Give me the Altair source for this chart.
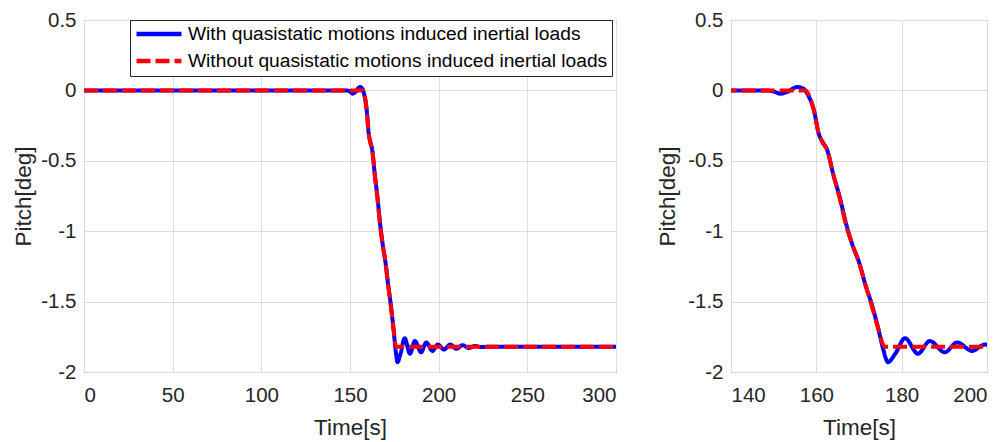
import altair as alt
import pandas as pd

S1 = "With quasistatic motions induced inertial loads"
S2 = "Without quasistatic motions induced inertial loads"

# Blue series: with quasistatic motions induced inertial loads
t_with = [0, 100, 148, 150, 151.6, 153.2, 155.5, 157, 158, 159.5, 160.5, 161.5, 162.5,
          164, 165.5, 167, 168.5, 170, 171.5, 173, 174.5, 175.6, 176.8, 178.5, 180.8,
          183.8, 186.6, 190.1, 193, 196.5, 199.5, 203, 206.5, 210, 213.5, 217, 220.5,
          224, 230, 300]
p_with = [0, 0, 0, -0.008, -0.023, -0.01, 0.024, 0.012, -0.03, -0.15, -0.3, -0.37, -0.42,
          -0.6, -0.76, -0.95, -1.1, -1.22, -1.38, -1.52, -1.69, -1.83, -1.93, -1.87, -1.76,
          -1.87, -1.78, -1.86, -1.79, -1.85, -1.805, -1.84, -1.805, -1.835, -1.81, -1.83,
          -1.815, -1.823, -1.82, -1.82]

# Red series: without quasistatic motions induced inertial loads
t_without = [0, 100, 157.5, 158.5, 159.5, 160.5, 161.5, 162.5, 164, 165.5, 167, 168.5,
             170, 171.5, 173, 174.5, 176, 200, 300]
p_without = [0, 0, 0, -0.05, -0.15, -0.3, -0.37, -0.42, -0.6, -0.77, -0.96, -1.1,
             -1.22, -1.38, -1.53, -1.69, -1.82, -1.82, -1.82]

y_ticks = [-2, -1.5, -1, -0.5, 0, 0.5]
x_ticks_left = [0, 50, 100, 150, 200, 250, 300]
x_ticks_right = [140, 160, 180, 200]

df = pd.concat([
    pd.DataFrame({"t": t_with, "p": p_with, "series": S1}),
    pd.DataFrame({"t": t_without, "p": p_without, "series": S2}),
], ignore_index=True)

color_scale = alt.Scale(domain=[S1, S2], range=["#0000ff", "#ff0000"])
dash_scale = alt.Scale(domain=[S1, S2], range=[[1, 0], [14, 5]])


def panel(xdom, xvals, width, show_legend, title_pad):
    legend = alt.Legend(
        title=None, orient="none", legendX=46, legendY=0,
        symbolType="stroke", symbolSize=2025, symbolStrokeWidth=4.5,
        labelFont="Liberation Sans", labelFontSize=19.2, labelColor="#000000",
        strokeColor="#262626", fillColor="#ffffff", padding=4,
        rowPadding=6, clipHeight=20, labelLimit=600, labelOffset=4,
    ) if show_legend else None
    x = alt.X("t:Q", scale=alt.Scale(domain=xdom, nice=False, zero=False),
              axis=alt.Axis(values=xvals, title="Time[s]", labelExpr="'' + datum.value"))
    y = alt.Y("p:Q", scale=alt.Scale(domain=[-2, 0.5], nice=False),
              axis=alt.Axis(values=y_ticks, title="Pitch[deg]", titlePadding=title_pad,
                            labelExpr="'' + datum.value"))
    layers = []
    for s in [S1, S2]:
        layers.append(
            alt.Chart(df).transform_filter(alt.datum.series == s)
            .mark_line(strokeWidth=4, interpolate="monotone", clip=True)
            .encode(
                x=x, y=y,
                color=alt.Color("series:N", scale=color_scale, legend=legend),
                strokeDash=alt.StrokeDash("series:N", scale=dash_scale, legend=legend),
            )
        )
    return alt.layer(*layers).properties(width=width, height=352)


left = panel([0, 300], x_ticks_left, 532, True, 5)
right = panel([140, 200], x_ticks_right, 256, False, 8)

chart = alt.hconcat(left, right, spacing=39).properties(
    padding={"left": 12, "top": 9, "right": 5, "bottom": 5},
    background="#ffffff",
).configure_view(
    stroke="#262626", strokeWidth=1
).configure_axis(
    labelFont="Liberation Sans", labelFontSize=20.5, labelColor="#262626",
    titleFont="Liberation Sans", titleFontSize=22.5, titleFontWeight="normal",
    titleColor="#262626", gridColor="#dcdcdc", gridWidth=1, domain=False,
    tickSize=0, labelPadding=8,
).configure_axisX(
    labelPadding=13, titlePadding=11,
)

chart.save("out.html", embed_options={"renderer": "svg", "actions": False})
